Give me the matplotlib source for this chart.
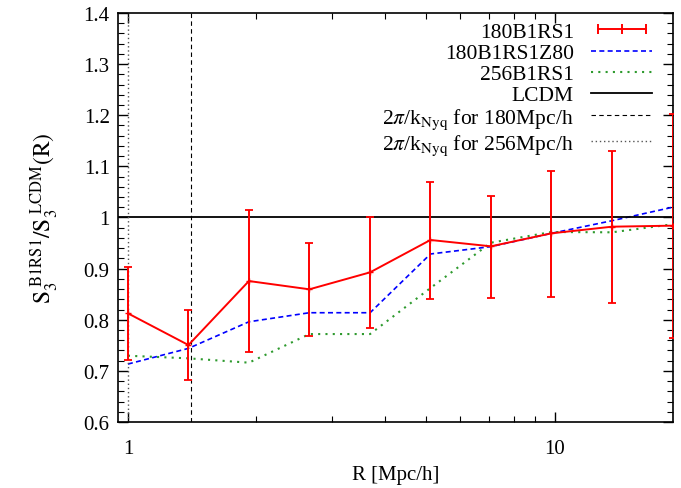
import numpy as np
import matplotlib
matplotlib.use("Agg")
import matplotlib.pyplot as plt
from matplotlib.ticker import MultipleLocator, LogLocator, NullFormatter, FixedLocator, FixedFormatter
from matplotlib.lines import Line2D
from matplotlib.legend_handler import HandlerLine2D

plt.rcParams["font.family"] = "serif"
plt.rcParams["font.serif"] = ["Liberation Serif", "DejaVu Serif"]
plt.rcParams["mathtext.fontset"] = "stix"

R = [1.0, 1.386, 1.92, 2.66, 3.69, 5.11, 7.08, 9.81, 13.6, 18.85]
s180 = [0.8125, 0.7505, 0.8757, 0.8595, 0.8927, 0.956, 0.9436, 0.969, 0.982, 0.984]
s180_hi = [0.9026, 0.8196, 1.014, 0.950, 1.0016, 1.070, 1.0427, 1.0916, 1.130, 1.2025]
s180_lo = [0.7217, 0.682, 0.7374, 0.7687, 0.7838, 0.841, 0.843, 0.845, 0.833, 0.764]
s180z80 = [0.7133, 0.744, 0.796, 0.8137, 0.8137, 0.9286, 0.943, 0.969, 0.9937, 1.020]
s256 = [0.7296, 0.7245, 0.716, 0.772, 0.772, 0.862, 0.9507, 0.9716, 0.971, 0.9867]
nyq180 = 1.40625
nyq256 = 1.0

err = [np.array(s180) - np.array(s180_lo), np.array(s180_hi) - np.array(s180)]

fig = plt.figure(figsize=(6.81, 4.89), dpi=100)
ax = fig.add_axes([0.1733, 0.135, 0.815, 0.8364])

ax.errorbar(R, s180, yerr=err, color="red", lw=1.4, marker="+", ms=5,
            capsize=3, capthick=1.3, elinewidth=1.4, zorder=5)
l2, = ax.plot(R, s180z80, color="blue", ls=(0, (3, 2)), lw=1.2)
l3, = ax.plot(R, s256, color="#2e9a2e", ls=(0, (1, 2.5)), lw=1.5)
l4 = ax.axhline(1.0, color="black", lw=1.3)
l5 = ax.axvline(nyq180, color="black", ls=(0, (4, 3)), lw=0.8)
l6 = ax.axvline(nyq256, color="#555555", ls=(0, (1, 2)), lw=1.0)

# gnuplot style key sample for the error bar series
h1 = Line2D([], [], color="red", lw=1.4, marker="|", ms=7, mew=1.4)

ax.set_xscale("log")
ax.set_xlim(0.948, 18.9)
ax.set_ylim(0.6, 1.4)

ax.xaxis.set_major_locator(FixedLocator([1, 10]))
ax.xaxis.set_major_formatter(FixedFormatter(["1", "10"]))
ax.xaxis.set_minor_locator(LogLocator(base=10, subs=np.arange(2, 10)))
ax.xaxis.set_minor_formatter(NullFormatter())
ax.set_yticks([0.6, 0.7, 0.8, 0.9, 1.0, 1.1, 1.2, 1.3, 1.4])
ax.set_yticklabels(["0.6", "0.7", "0.8", "0.9", "1", "1.1", "1.2", "1.3", "1.4"])
ax.yaxis.set_minor_locator(MultipleLocator(0.02))

ax.tick_params(which="both", direction="in", top=True, right=True, labelsize=15)
ax.tick_params(which="major", length=7, width=1)
ax.tick_params(which="minor", length=4, width=0.8)
ax.tick_params(axis="x", pad=12)
ax.tick_params(axis="y", pad=6)
for s in ax.spines.values():
    s.set_linewidth(1.2)

ax.set_xlabel("R [Mpc/h]", fontsize=15, labelpad=5)
ax.set_ylabel(r"$\mathrm{S_3^{\ B1RS1}/S_3^{\ LCDM}(R)}$", fontsize=17, labelpad=16)

handles = [h1, l2, l3, l4, l5, l6]
labels = ["180B1RS1", "180B1RS1Z80", "256B1RS1", "LCDM",
          r"2$\pi$/k$_{\rm Nyq}$ for 180Mpc/h", r"2$\pi$/k$_{\rm Nyq}$ for 256Mpc/h"]
ax.legend(handles, labels, loc="upper right", frameon=False, markerfirst=False,
          fontsize=15.5, handlelength=2.85, labelspacing=0.05, borderaxespad=0.3,
          handletextpad=0.8, bbox_to_anchor=(0.99, 1.015),
          handler_map={h1: HandlerLine2D(numpoints=3)})

fig.savefig("out.png", dpi=100)
